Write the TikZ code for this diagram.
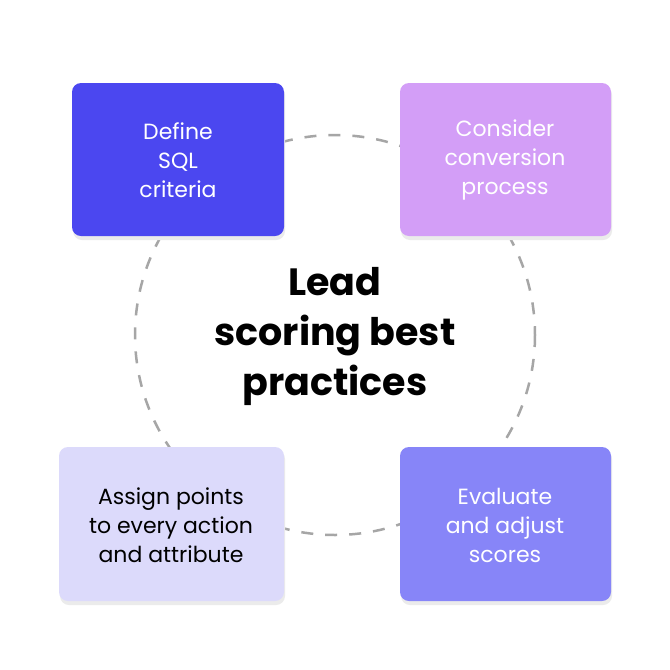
\documentclass[tikz,border=0pt]{standalone}
\usepackage{fontspec}
\setmainfont{Poppins}
\begin{document}
\begin{tikzpicture}[x=1pt,y=-1pt,
  box/.style={rounded corners=9pt,draw=none},
  lbl/.style={align=center,font=\fontsize{22}{29}\selectfont,text=white},
  ringdash/.style={draw=black!35,line width=2.5pt,dash pattern=on 12pt off 12pt}]
\useasboundingbox[fill=white] (0,0) rectangle (670,670);
\definecolor{c1}{HTML}{4B47F0}
\definecolor{c2}{HTML}{D39EF7}
\definecolor{c3}{HTML}{DCDAFB}
\definecolor{c4}{HTML}{8785F8}
\draw[ringdash] (335,335) circle (200);
\foreach \a/\b/\c/\d/\col in {72/83/284/236/c1,400/83/611/236/c2,59/447/284/601/c3,400/447/611/601/c4}{
  \fill[black!8,rounded corners=9pt] (\a+1,\b+3) rectangle (\c+1,\d+4);
  \fill[box,fill=\col] (\a,\b) rectangle (\c,\d);}
\node[lbl] (a) at (178,160) {Define\\SQL\\criteria};
\node[lbl] (b) at (505,160) {Consider\\conversion\\process};
\node[lbl,text=black] (c) at (171,525) {Assign points\\to every action\\and attribute};
\node[lbl] (d) at (505,525) {Evaluate\\and adjust\\scores};
\node[align=center,font=\fontsize{38}{50}\selectfont\bfseries] (t) at (335,336) {Lead\\scoring best\\practices};
\end{tikzpicture}
\end{document}
